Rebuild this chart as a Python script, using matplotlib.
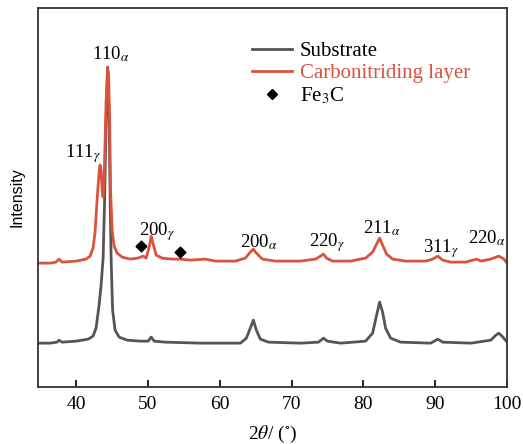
import matplotlib
matplotlib.use("Agg")
import matplotlib.pyplot as plt
from matplotlib.lines import Line2D

plt.rcParams['font.family'] = ['Liberation Serif', 'DejaVu Serif']
plt.rcParams['mathtext.fontset'] = 'stix'

# traced XRD patterns (2theta in degrees, intensity in arbitrary units)
red_2theta = [34.7, 36.37, 37.2, 37.62, 38.04, 40.0, 41.39, 41.95, 42.36, 42.64,
              42.92, 43.2, 43.34, 43.48, 43.62, 43.76, 43.9, 44.04, 44.18, 44.39,
              44.53, 44.67, 44.8, 45.01, 45.29, 45.71, 46.41, 47.52, 48.63, 49.33,
              49.75, 50.17, 50.45, 50.73, 51.15, 51.99, 53.38, 54.5, 55.9, 57.99,
              59.37, 62.16, 63.56, 64.25, 64.67, 65.09, 65.93, 67.74, 71.23, 73.32,
              74.02, 74.44, 74.86, 75.69, 78.2, 80.3, 81.27, 81.83, 82.25, 82.66,
              83.22, 84.06, 85.87, 88.66, 89.64, 90.34, 91.03, 92.15, 94.24, 95.22,
              95.78, 96.34, 97.73, 98.85, 99.55, 100.1]
red_int = [124, 124, 125, 128, 125, 126, 128, 131, 139, 155,
           187, 215, 222, 217, 197, 190, 207, 247, 287, 319,
           312, 267, 197, 157, 141, 134, 130, 128, 129, 131,
           129, 140, 151, 143, 132, 129, 128, 128, 127, 128,
           126, 126, 129, 135, 138, 134, 128, 126, 126, 128,
           131, 133, 129, 126, 126, 129, 135, 143, 149, 142,
           133, 128, 126, 126, 128, 131, 127, 125, 125, 127,
           128, 126, 128, 131, 128, 123]

gray_2theta = [34.7, 36.37, 37.34, 37.62, 38.04, 40.0, 41.67, 42.36, 42.78, 43.2,
               43.48, 43.76, 43.97, 44.18, 44.39, 44.6, 44.74, 44.88, 45.08, 45.43,
               45.99, 47.11, 48.92, 50.03, 50.45, 50.87, 52.4, 57.29, 62.87, 63.7,
               64.25, 64.67, 65.09, 65.65, 66.77, 71.23, 73.74, 74.44, 74.99, 76.81,
               80.3, 81.27, 81.83, 82.25, 82.66, 83.08, 83.78, 85.17, 89.36, 90.34,
               91.03, 94.96, 97.73, 98.43, 98.85, 99.41, 100.1]
gray_int = [44, 44, 45, 47, 45, 46, 48, 51, 59, 82,
            102, 129, 187, 267, 320, 267, 187, 127, 77, 57,
            50, 47, 46, 46, 50, 46, 45, 44, 44, 49,
            59, 67, 57, 48, 45, 44, 45, 49, 46, 44,
            46, 54, 72, 85, 75, 59, 49, 45, 44, 48,
            45, 44, 47, 52, 54, 50, 44]

fe3c_2theta = [49.08, 54.52]
fe3c_int = [141, 135]

peak_labels = ['110$_{\\alpha}$', '111$_{\\gamma}$', '200$_{\\gamma}$', '200$_{\\alpha}$',
               '220$_{\\gamma}$', '211$_{\\alpha}$', '311$_{\\gamma}$', '220$_{\\alpha}$']
label_2theta = [44.9, 40.95, 51.3, 65.5, 74.9, 82.6, 90.8, 97.2]
label_int = [333, 234, 156, 145, 145, 159, 139, 149]

red = '#d9533e'
gray = '#5b5352'

fig = plt.figure(figsize=(5.23, 4.44), dpi=100)
ax = fig.add_axes([0.0727, 0.128, 0.897, 0.854])

ax.plot(gray_2theta, gray_int, color=gray, lw=2.0)
ax.plot(red_2theta, red_int, color=red, lw=2.0)
ax.scatter(fe3c_2theta, fe3c_int, marker='D', s=30, color='black', zorder=3)

for lab, x, y in zip(peak_labels, label_2theta, label_int):
    ax.text(x, y, lab, ha='center', va='center', fontsize=13.5)

ax.set_xlim(34.7, 100)
ax.set_ylim(0, 379)
ax.set_xticks([40, 50, 60, 70, 80, 90, 100])
ax.set_yticks([])
ax.tick_params(axis='x', direction='in', length=5, width=1.2, labelsize=14, pad=6)
for s in ax.spines.values():
    s.set_linewidth(1.3)
    s.set_color('#333333')

ax.set_xlabel('2$\\theta$/ ($^{\\circ}$)', fontsize=14, labelpad=8)
ax.set_ylabel('Intensity', fontsize=11.5, family='Liberation Sans', labelpad=10)

handles = [Line2D([], [], color=gray, lw=2.0),
           Line2D([], [], color=red, lw=2.0),
           Line2D([], [], color='black', marker='D', ls='none', markersize=5)]
leg = ax.legend(handles, ['Substrate', 'Carbonitriding layer', 'Fe$_3$C'],
                loc='upper left', bbox_to_anchor=(0.456, 0.912), frameon=False,
                fontsize=15, handlelength=1.9, handletextpad=0.4,
                labelspacing=0.12, borderpad=0, borderaxespad=0)
leg.get_texts()[1].set_color(red)

fig.savefig('out.png', dpi=100)
